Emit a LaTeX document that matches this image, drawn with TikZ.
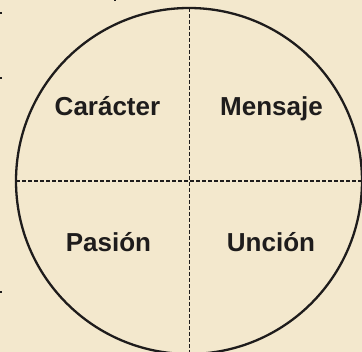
\documentclass[tikz,border=0pt]{standalone}
\usepackage{fontspec}
\setmainfont{Liberation Sans}
\definecolor{parch}{RGB}{243,232,205}
\definecolor{ink}{RGB}{30,28,28}
\begin{document}
\begin{tikzpicture}[x=1pt,y=-1pt,
  lbl/.style={anchor=base,font=\fontsize{26}{30}\selectfont\bfseries,text=ink,inner sep=0pt},
  divider/.style={draw=ink,line width=1.1pt,dash pattern=on 4pt off 2pt},
  rim/.style={draw=ink,line width=2.3pt}]
\fill[parch] (0,0) rectangle (362,352);
\useasboundingbox (0,0) rectangle (362,352);
\coordinate (c) at (189,181);
\coordinate (top) at (189.5,8);
\coordinate (bot) at (189.5,352);
\coordinate (lft) at (16,181);
\coordinate (rgt) at (362,181);
\draw[divider] (top) -- (bot);
\draw[divider] (lft) -- (rgt);
\draw[rim] (c) circle (173);
\node[lbl] (car) at (107.5,116) {Carácter};
\node[lbl] (men) at (271.5,116) {Mensaje};
\node[lbl] (pas) at (108.5,252) {Pasión};
\node[lbl] (unc) at (271,252) {Unción};
\fill[ink] (0,12) rectangle (2,14);
\fill[ink] (0,77) rectangle (2,79);
\fill[ink] (0,291) rectangle (2,293);
\fill[ink] (114,0) rectangle (116,1.5);
\end{tikzpicture}
\end{document}
